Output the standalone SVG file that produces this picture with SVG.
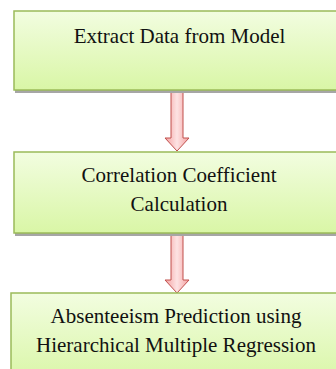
<svg xmlns="http://www.w3.org/2000/svg" width="336" height="369" viewBox="0 0 336 369">
<defs>
<linearGradient id="boxg" x1="0" y1="0" x2="0" y2="1">
<stop offset="0" stop-color="#f2fde0"/>
<stop offset="1" stop-color="#d9f6a6"/>
</linearGradient>
<linearGradient id="arrg" x1="0" y1="0" x2="1" y2="0">
<stop offset="0" stop-color="#f4a0a0"/>
<stop offset="0.5" stop-color="#fde3e3"/>
<stop offset="1" stop-color="#f4a0a0"/>
</linearGradient>
<style>
.box{fill:url(#boxg);stroke:#9bbb59;stroke-width:1.5}
.sh{fill:#a6a6a6}
.t{font-family:"Liberation Serif","Times New Roman",serif;font-size:21px;fill:#111;text-anchor:middle}
.arr{fill:url(#arrg);stroke:#c0504d;stroke-width:1;stroke-linejoin:miter}
</style>
</defs>
<g id="connectors">
<path class="arr" d="M171,91 L183,91 L183,138 L189,138 L177,151 L165,138 L171,138 Z"/>
<path class="arr" d="M171,234 L183,234 L183,280 L189,280 L177,293 L165,280 L171,280 Z"/>
</g>
<g id="n1">
<rect class="sh" x="15" y="14" width="330" height="79"/>
<rect class="box" x="14" y="11" width="330" height="79"/>
<text class="t" x="179.5" y="43">Extract Data from Model</text>
</g>
<g id="n2">
<rect class="sh" x="15" y="155" width="330" height="81"/>
<rect class="box" x="14" y="152" width="330" height="81"/>
<text class="t" x="179" y="182">Correlation Coefficient</text>
<text class="t" x="179" y="210.5">Calculation</text>
</g>
<g id="n3">
<rect class="box" x="11" y="293" width="340" height="90"/>
<text class="t" x="176" y="323">Absenteeism Prediction using</text>
<text class="t" x="176" y="352">Hierarchical Multiple Regression</text>
</g>
</svg>
